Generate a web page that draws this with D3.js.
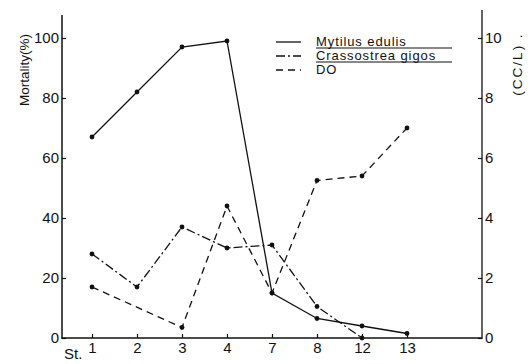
<!DOCTYPE html>
<html><head><meta charset="utf-8">
<script src="https://cdn.jsdelivr.net/npm/d3@7"></script>
<style>body{margin:0;background:#fff}svg{display:block}text{font-family:"Liberation Sans",Arial,sans-serif;fill:#111}</style>
</head><body><svg id="c" width="532" height="364"></svg>
<script>
const categories = ["1","2","3","4","7","8","12","13"];
const mytilus = [67, 82, 97, 99, 15, 6.5, 4, 1.5];
const crassostrea = [28, 17, 37, 30, 31, 10.5, 0, null];
const dissolvedO2 = [1.7, null, 0.35, 4.4, 1.5, 5.25, 5.4, 7.0];
const leftTicks = [0,20,40,60,80,100];
const rightTicks = [0,2,4,6,8,10];
const legendNames = ["Mytilus edulis","Crassostrea gigos","DO"];

const svg = d3.select("#c");
const x = d3.scalePoint().domain(categories).range([92, 407]);
const yL = d3.scaleLinear().domain([0,100]).range([338, 38]);
const yR = d3.scaleLinear().domain([0,10]).range([338, 38]);
const ink = "#111";

const gL = svg.append("g").attr("transform","translate(62,0)")
  .call(d3.axisLeft(yL).tickValues(leftTicks).tickSize(-4).tickPadding(3));
const gR = svg.append("g").attr("transform","translate(482,0)")
  .call(d3.axisRight(yR).tickValues(rightTicks).tickSize(-4).tickPadding(3));
const gB = svg.append("g").attr("transform","translate(0,338)")
  .call(d3.axisBottom(x).tickSize(-4).tickPadding(4));
[gL,gR,gB].forEach(g=>{
  g.select(".domain").remove();
  g.selectAll(".tick line").attr("stroke",ink).attr("stroke-width",1.2);
  g.selectAll("text").attr("font-size",15).attr("fill",ink)
   .style("font-family","'Liberation Sans',Arial,sans-serif");
});
svg.append("line").attr("x1",62).attr("x2",62).attr("y1",15).attr("y2",339).attr("stroke",ink).attr("stroke-width",1.5);
svg.append("line").attr("x1",482).attr("x2",482).attr("y1",10).attr("y2",339).attr("stroke",ink).attr("stroke-width",1.3);
svg.append("line").attr("x1",62).attr("x2",482).attr("y1",338).attr("y2",338).attr("stroke",ink).attr("stroke-width",1.5);

svg.append("text").attr("x",64).attr("y",359).attr("font-size",15).text("St.");

svg.append("text").attr("transform","translate(29,70) rotate(-90)")
  .attr("text-anchor","middle").attr("font-size",13.5).text("Mortality(%)");
svg.append("text").attr("transform","translate(522,64) rotate(-90)")
  .attr("text-anchor","middle").attr("font-size",13.5).attr("letter-spacing",2).text("(CC/L) .");

const series = [
  {vals: mytilus, y: yL, dash: null},
  {vals: crassostrea, y: yL, dash: "9,3,2,3"},
  {vals: dissolvedO2, y: yR, dash: "7,5"}
];
series.forEach(s=>{
  const pts = categories.map((c,i)=>({c, v:s.vals[i]})).filter(d=>d.v!==null);
  const line = d3.line().x(d=>x(d.c)).y(d=>s.y(d.v));
  svg.append("path").datum(pts).attr("d",line).attr("fill","none")
    .attr("stroke",ink).attr("stroke-width",1.3)
    .attr("stroke-dasharray",s.dash);
  svg.selectAll(null).data(pts).enter().append("circle")
    .attr("cx",d=>x(d.c)).attr("cy",d=>s.y(d.v)).attr("r",2.4).attr("fill",ink);
});

const ly = [42, 56, 70];
legendNames.forEach((n,i)=>{
  svg.append("line").attr("x1",276).attr("x2",301).attr("y1",ly[i]).attr("y2",ly[i])
    .attr("stroke",ink).attr("stroke-width",1.3).attr("stroke-dasharray",series[i].dash);
  svg.append("text").attr("x",316).attr("y",ly[i]+4).attr("font-size",13).attr("letter-spacing",0.9).text(n);
  if(i<2) svg.append("line").attr("x1",316).attr("x2",452).attr("y1",ly[i]+6).attr("y2",ly[i]+6)
    .attr("stroke",ink).attr("stroke-width",1);
});
</script></body></html>
